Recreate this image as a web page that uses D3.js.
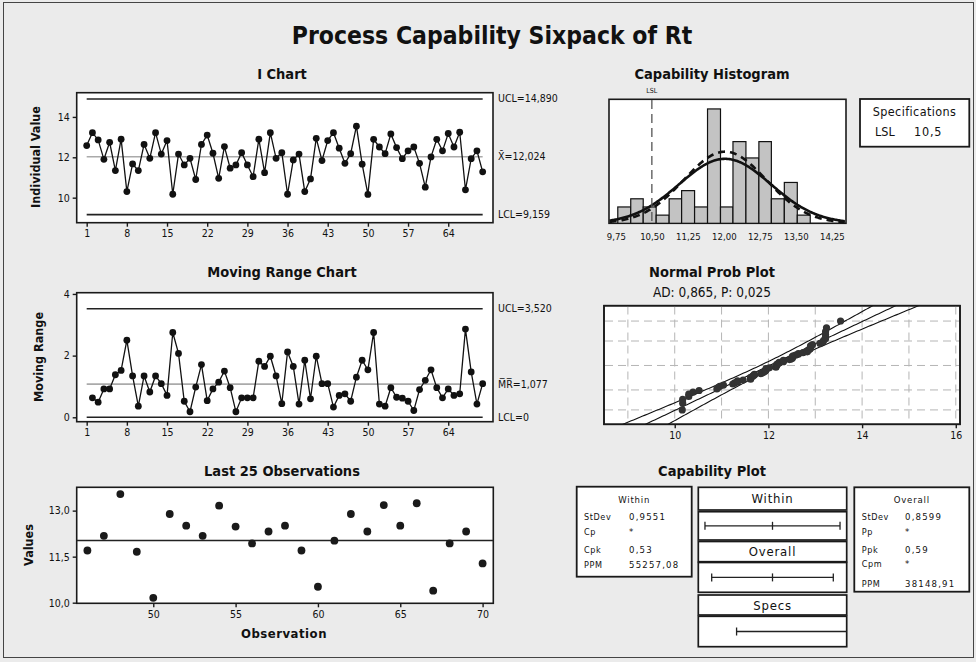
<!DOCTYPE html>
<html><head><meta charset="utf-8">
<script src="https://cdn.jsdelivr.net/npm/d3@7"></script>
<style>
body{margin:0;background:#ebebeb;}
svg{display:block;}
text{font-family:"DejaVu Sans Condensed","DejaVu Sans",sans-serif;fill:#111;}
</style></head>
<body><svg width="976" height="662"></svg>
<script>
// ---------------- data ----------------
const individualValues = [12.58,13.22,12.86,11.90,12.74,11.34,12.90,10.30,11.67,11.34,
  12.64,11.95,13.22,12.16,12.83,10.17,12.16,11.62,11.95,10.90,
  12.64,13.10,12.20,10.96,12.53,11.46,11.62,12.23,11.62,11.04,
  12.90,11.24,13.22,11.95,12.23,10.17,11.87,12.16,10.30,10.93,
  12.94,11.84,12.83,13.22,12.45,11.70,12.18,13.54,11.66,10.16,
  12.89,12.51,12.18,13.16,12.48,11.93,12.32,12.51,11.70,10.52,
  12.02,12.89,12.32,13.18,12.51,13.24,10.39,11.93,12.32,11.28];
// moving ranges for observations 2..70
const movingRanges = [0.63,0.49,0.92,0.92,1.38,1.52,2.50,1.34,0.36,
  1.34,0.82,1.34,1.09,0.71,2.75,2.07,0.52,0.18,0.98,
  1.71,0.54,0.92,1.14,1.50,0.96,0.18,0.63,0.63,0.63,
  1.82,1.65,1.98,1.34,0.44,2.12,1.65,0.43,1.85,0.60,
  1.98,1.09,1.09,0.33,0.71,0.76,0.52,1.30,1.85,1.54,
  2.75,0.43,0.36,0.96,0.65,0.62,0.52,0.22,0.90,1.20,
  1.54,0.96,0.63,0.92,0.71,0.76,2.86,1.47,0.43,1.09];
const iChartXTicks = [1,8,15,22,29,36,43,50,57,64];
const iChartYTicks = [10,12,14];
const mrYTicks = [0,2,4];
const last25XTicks = [50,55,60,65,70];
const last25YTicks = [10.0,11.5,13.0];
const iUCL = 14.890, iCenter = 12.024, iLCL = 9.159;
const mrUCL = 3.520, mrCenter = 1.077, mrLCL = 0;
const histEdges = [9.79,10.06,10.32,10.59,10.86,11.12,11.39,11.66,11.93,12.19,12.46,12.73,12.99,13.26,13.53,13.80];
const histCounts = [2,3,2,1,3,4,2,14,2,10,8,10,3,5,1];
const histTicks = [9.75,10.50,11.25,12.00,12.75,13.50,14.25];
const probXTicks = [10,12,14,16];
const probGridX = [9,10,11,12,13,14,15,16];
const probGridPct = [1,10,50,90,99];
const LSL = 10.5;
const processMean = 12.024;
const stdevWithin = 0.9551;
const stdevOverall = 0.8599;
const withinStats = [["StDev","0,9551"],["Cp","*"],["Cpk","0,53"],["PPM","55257,08"]];
const overallStats = [["StDev","0,8599"],["Pp","*"],["Ppk","0,59"],["Cpm","*"],["PPM","38148,91"]];
const adText = "AD: 0,865, P: 0,025";

// ---------------- helpers ----------------
const svg = d3.select("svg");
const loc = d3.formatLocale({decimal:",",thousands:".",grouping:[3],currency:["",""]});
const fmt1 = loc.format(".1f"), fmt2 = loc.format(".2f"), fmt3 = loc.format(".3f"), fmtInt = loc.format("d");
const N = individualValues.length;

function invNorm(p){
  const a=[-3.969683028665376e+01,2.209460984245205e+02,-2.759285104469687e+02,1.383577518672690e+02,-3.066479806614716e+01,2.506628277459239e+00];
  const b=[-5.447609879822406e+01,1.615858368580409e+02,-1.556989798598866e+02,6.680131188771972e+01,-1.328068155288572e+01];
  const c=[-7.784894002430293e-03,-3.223964580411365e-01,-2.400758277161838e+00,-2.549732539343734e+00,4.374664141464968e+00,2.938163982698783e+00];
  const d=[7.784695709041462e-03,3.224671290700398e-01,2.445134137142996e+00,3.754408661907416e+00];
  const pl=0.02425; let q,r;
  if(p<pl){q=Math.sqrt(-2*Math.log(p));return (((((c[0]*q+c[1])*q+c[2])*q+c[3])*q+c[4])*q+c[5])/((((d[0]*q+d[1])*q+d[2])*q+d[3])*q+1);}
  if(p<=1-pl){q=p-0.5;r=q*q;return (((((a[0]*r+a[1])*r+a[2])*r+a[3])*r+a[4])*r+a[5])*q/(((((b[0]*r+b[1])*r+b[2])*r+b[3])*r+b[4])*r+1);}
  q=Math.sqrt(-2*Math.log(1-p));return -(((((c[0]*q+c[1])*q+c[2])*q+c[3])*q+c[4])*q+c[5])/((((d[0]*q+d[1])*q+d[2])*q+d[3])*q+1);
}
function normPdf(x,m,s){return Math.exp(-0.5*((x-m)/s)**2)/(s*Math.sqrt(2*Math.PI));}

function frame(x0,y0,x1,y1,sw){
  return svg.append("rect").attr("x",x0).attr("y",y0).attr("width",x1-x0).attr("height",y1-y0)
    .attr("fill","#fff").attr("stroke","#1a1a1a").attr("stroke-width",sw||1.6);
}
function styleAxis(g,fs){
  g.select(".domain").remove();
  g.selectAll(".tick line").attr("stroke","#1a1a1a").attr("stroke-width",1.4);
  g.selectAll(".tick text").attr("font-size",fs||10.5).attr("fill","#222")
    .attr("font-family","'DejaVu Sans Condensed','DejaVu Sans',sans-serif");
}
function title(x,y,t,fs,w){
  return svg.append("text").attr("x",x).attr("y",y).attr("text-anchor","middle")
    .attr("font-size",fs).attr("font-weight",w||"bold").text(t);
}

// outer border
svg.append("rect").attr("x",3.5).attr("y",2.5).attr("width",970).attr("height",655)
  .attr("fill","#ebebeb").attr("stroke","#444").attr("stroke-width",1);

title(492,44,"Process Capability Sixpack of Rt",24.5);
title(282,79,"I Chart",14.5);
title(712,79,"Capability Histogram",14.5);
title(282,277,"Moving Range Chart",14.5);
title(712,277,"Normal Prob Plot",14.5);
title(712,297,adText,13.5,"normal").attr("fill","#333");
title(282,476,"Last 25 Observations",14.5);
title(712,476,"Capability Plot",14.5);

// ---------------- I chart ----------------
const xI = d3.scaleLinear().domain([-0.74,71.8]).range([76.7,493]);
const yI = d3.scaleLinear().domain([8.76,15.2]).range([222.7,92.7]);
frame(76.7,92.7,493,222.7);
[[iUCL,"#222"],[iCenter,"#aaa"],[iLCL,"#222"]].forEach(([v,c])=>{
  svg.append("line").attr("x1",xI(1)).attr("x2",xI(N)).attr("y1",yI(v)).attr("y2",yI(v))
    .attr("stroke",c).attr("stroke-width",1.6);
});
svg.append("path").datum(individualValues)
  .attr("d",d3.line().x((d,i)=>xI(i+1)).y(d=>yI(d)))
  .attr("fill","none").attr("stroke","#111").attr("stroke-width",1.3);
svg.append("g").selectAll("circle").data(individualValues).join("circle")
  .attr("cx",(d,i)=>xI(i+1)).attr("cy",d=>yI(d)).attr("r",3.4).attr("fill","#111");
styleAxis(svg.append("g").attr("transform","translate(0,222.7)")
  .call(d3.axisBottom(xI).tickValues(iChartXTicks).tickFormat(fmtInt).tickSize(4).tickPadding(3)));
styleAxis(svg.append("g").attr("transform","translate(76.7,0)")
  .call(d3.axisLeft(yI).tickValues(iChartYTicks).tickFormat(fmtInt).tickSize(4).tickPadding(3)));
svg.append("text").attr("transform","translate(40,157) rotate(-90)").attr("text-anchor","middle")
  .attr("font-size",12.5).attr("font-weight","bold").text("Individual Value");
const limLab = (y,t)=>svg.append("text").attr("x",498).attr("y",y+3.5).attr("font-size",10.5).attr("fill","#222").text(t);
limLab(yI(iUCL),"UCL="+fmt3(iUCL));
limLab(yI(iCenter),"X\u0304="+fmt3(iCenter));
limLab(yI(iLCL),"LCL="+fmt3(iLCL));

// ---------------- Moving range chart ----------------
const yM = d3.scaleLinear().domain([-0.143,4.04]).range([421.7,292.7]);
frame(76.7,292.7,493,421.7);
[[mrUCL,"#222"],[mrCenter,"#aaa"],[mrLCL,"#222"]].forEach(([v,c])=>{
  svg.append("line").attr("x1",xI(1)).attr("x2",xI(N)).attr("y1",yM(v)).attr("y2",yM(v))
    .attr("stroke",c).attr("stroke-width",1.6);
});
svg.append("path").datum(movingRanges)
  .attr("d",d3.line().x((d,i)=>xI(i+2)).y(d=>yM(d)))
  .attr("fill","none").attr("stroke","#111").attr("stroke-width",1.3);
svg.append("g").selectAll("circle").data(movingRanges).join("circle")
  .attr("cx",(d,i)=>xI(i+2)).attr("cy",d=>yM(d)).attr("r",3.4).attr("fill","#111");
styleAxis(svg.append("g").attr("transform","translate(0,421.7)")
  .call(d3.axisBottom(xI).tickValues(iChartXTicks).tickFormat(fmtInt).tickSize(4).tickPadding(3)));
styleAxis(svg.append("g").attr("transform","translate(76.7,0)")
  .call(d3.axisLeft(yM).tickValues(mrYTicks).tickFormat(fmtInt).tickSize(4).tickPadding(3)));
svg.append("text").attr("transform","translate(43,357) rotate(-90)").attr("text-anchor","middle")
  .attr("font-size",12.5).attr("font-weight","bold").text("Moving Range");
const mLab = (y,t)=>svg.append("text").attr("x",498).attr("y",y+3.5).attr("font-size",10.5).attr("fill","#222").text(t);
mLab(yM(mrUCL),"UCL="+fmt3(mrUCL));
mLab(yM(mrCenter),"M\u0305R\u0305="+fmt3(mrCenter));
mLab(yM(mrLCL),"LCL="+mrLCL);

// ---------------- Last 25 observations ----------------
const last25 = individualValues.slice(N-25).map((v,i)=>({obs:N-25+i+1,v}));
const xL = d3.scaleLinear().domain([45.35,70.65]).range([76.7,493.3]);
const yL = d3.scaleLinear().domain([9.98,13.76]).range([603.3,487.3]);
frame(76.7,487.3,493.3,603.3);
svg.append("line").attr("x1",76.7).attr("x2",493.3).attr("y1",yL(iCenter)).attr("y2",yL(iCenter))
  .attr("stroke","#222").attr("stroke-width",1.4);
svg.append("g").selectAll("circle").data(last25).join("circle")
  .attr("cx",d=>xL(d.obs)).attr("cy",d=>yL(d.v)).attr("r",3.9).attr("fill","#1a1a1a");
styleAxis(svg.append("g").attr("transform","translate(0,603.3)")
  .call(d3.axisBottom(xL).tickValues(last25XTicks).tickFormat(fmtInt).tickSize(4).tickPadding(3)));
styleAxis(svg.append("g").attr("transform","translate(76.7,0)")
  .call(d3.axisLeft(yL).tickValues(last25YTicks).tickFormat(fmt1).tickSize(4).tickPadding(3)));
svg.append("text").attr("x",284).attr("y",638).attr("text-anchor","middle").attr("font-size",13)
  .attr("font-weight","bold").attr("letter-spacing",0.5).text("Observation");
svg.append("text").attr("transform","translate(33,545) rotate(-90)").attr("text-anchor","middle")
  .attr("font-size",12.5).attr("font-weight","bold").text("Values");

// ---------------- Capability histogram ----------------
const xH = d3.scaleLinear().domain([9.607,14.545]).range([609,846]);
const yH = d3.scaleLinear().domain([0,15.18]).range([223.3,99.3]);
frame(609,99.3,846,223.3);
const bins = histCounts.map((c,i)=>({x0:histEdges[i],x1:histEdges[i+1],c}));
svg.append("g").selectAll("rect").data(bins).join("rect")
  .attr("x",d=>xH(d.x0)).attr("width",d=>xH(d.x1)-xH(d.x0))
  .attr("y",d=>yH(d.c)).attr("height",d=>yH(0)-yH(d.c))
  .attr("fill","#c3c3c3").attr("stroke","#111").attr("stroke-width",1.2);
const binW = histEdges[1]-histEdges[0];
const xsH = d3.range(9.62,14.54,0.02);
const curve = sd => d3.line().x(x=>xH(x)).y(x=>yH(N*binW*normPdf(x,processMean,sd)));
svg.append("path").datum(xsH).attr("d",curve(stdevWithin)).attr("fill","none")
  .attr("stroke","#111").attr("stroke-width",2.6);
svg.append("path").datum(xsH).attr("d",curve(stdevOverall)).attr("fill","none")
  .attr("stroke","#111").attr("stroke-width",2.6).attr("stroke-dasharray","7,5");
svg.append("line").attr("x1",xH(LSL)).attr("x2",xH(LSL)).attr("y1",100).attr("y2",222.5)
  .attr("stroke","#555").attr("stroke-width",1.3).attr("stroke-dasharray","9,5");
svg.append("text").attr("x",xH(LSL)).attr("y",93).attr("text-anchor","middle").attr("font-size",7).attr("fill","#333").text("LSL");
const gHx = svg.append("g").attr("transform","translate(0,223.3)")
  .call(d3.axisBottom(xH).tickValues(histTicks).tickFormat(fmt2).tickSize(0).tickPadding(10));
styleAxis(gHx,9.5);

// specifications box
frame(860,99,969.3,146.7,1.8);
svg.append("text").attr("x",914.5).attr("y",116).attr("text-anchor","middle").attr("font-size",12.5).attr("letter-spacing",0.4).text("Specifications");
svg.append("text").attr("x",875).attr("y",136).attr("font-size",12.5).text("LSL");
svg.append("text").attr("x",914).attr("y",136).attr("font-size",12.5).attr("letter-spacing",0.8).text(fmt1(LSL));

// ---------------- Normal probability plot ----------------
const xP = d3.scaleLinear().domain([8.49,16.09]).range([604,960]);
const yP = d3.scaleLinear().domain([-3.08,3.13]).range([424.3,305.7]);
frame(604,305.7,960,424.3,1.6);
const gridG = svg.append("g").attr("stroke","#b5b5b5").attr("stroke-width",1).attr("stroke-dasharray","8,5");
probGridX.forEach(v=>gridG.append("line").attr("x1",xP(v)).attr("x2",xP(v)).attr("y1",306.5).attr("y2",423.5));
probGridPct.forEach(p=>gridG.append("line").attr("x1",605).attr("x2",959).attr("y1",yP(invNorm(p/100))).attr("y2",yP(invNorm(p/100))));
svg.append("clipPath").attr("id","pclip").append("rect").attr("x",604).attr("y",305.7).attr("width",356).attr("height",118.6);
const zs = d3.range(-3.4,3.41,0.05);
const band = k => d3.line()
  .x(z=>xP(processMean+z*stdevOverall+k*1.96*stdevOverall*Math.sqrt(1/N+z*z/(2*N))))
  .y(z=>yP(z));
[-1,0,1].forEach(k=>svg.append("path").datum(zs).attr("d",band(k)).attr("clip-path","url(#pclip)")
  .attr("fill","none").attr("stroke","#111").attr("stroke-width",1.1));
const sorted = individualValues.slice().sort(d3.ascending);
svg.append("g").attr("clip-path","url(#pclip)").selectAll("circle").data(sorted).join("circle")
  .attr("cx",d=>xP(d)).attr("cy",(d,i)=>yP(invNorm((i+1-0.3)/(N+0.4)))).attr("r",3.6).attr("fill","#333");
styleAxis(svg.append("g").attr("transform","translate(0,424.3)")
  .call(d3.axisBottom(xP).tickValues(probXTicks).tickFormat(fmtInt).tickSize(4).tickPadding(3)));
frame(604,305.7,960,424.3,1.6).attr("fill","none");

// ---------------- Capability plot ----------------
const xC = d3.scaleLinear().domain([8.876,15.172]).range([698.3,846.7]);
const rows = [[487.3,510,"Within"],[511.7,540,null],[541.5,561.7,"Overall"],[562.5,592.3,null],[595,615,"Specs"],[616.3,646.7,null]];
rows.forEach(([y0,y1,t])=>{
  frame(698.3,y0,846.7,y1,1.7);
  if(t) svg.append("text").attr("x",772.5).attr("y",(y0+y1)/2+4.8).attr("text-anchor","middle")
    .attr("font-size",13).attr("letter-spacing",0.8).attr("fill","#444").text(t);
});
function intervalRow(lo,hi,mid,yc){
  svg.append("line").attr("x1",xC(lo)).attr("x2",xC(hi)).attr("y1",yc).attr("y2",yc).attr("stroke","#222").attr("stroke-width",1.3);
  [lo,mid,hi].filter(v=>v!=null).forEach(v=>svg.append("line").attr("x1",xC(v)).attr("x2",xC(v)).attr("y1",yc-4).attr("y2",yc+4).attr("stroke","#222").attr("stroke-width",1.3));
}
intervalRow(processMean-3*stdevWithin,processMean+3*stdevWithin,processMean,525.8);
intervalRow(processMean-3*stdevOverall,processMean+3*stdevOverall,processMean,577.4);
svg.append("line").attr("x1",xC(LSL)).attr("x2",846.7).attr("y1",631.5).attr("y2",631.5).attr("stroke","#222").attr("stroke-width",1.3);
svg.append("line").attr("x1",xC(LSL)).attr("x2",xC(LSL)).attr("y1",627.5).attr("y2",635.5).attr("stroke","#222").attr("stroke-width",1.3);

function statBox(x0,y0,x1,y1,head,stats,ys,lx,vx){
  frame(x0,y0,x1,y1,1.8);
  svg.append("text").attr("x",(x0+x1)/2).attr("y",y0+16).attr("text-anchor","middle").attr("font-size",9.5)
    .attr("letter-spacing",0.8).attr("fill","#333").text(head);
  stats.forEach(([l,v],i)=>{
    svg.append("text").attr("x",lx).attr("y",ys[i]).attr("font-size",9).attr("letter-spacing",0.6).attr("fill","#333").text(l);
    svg.append("text").attr("x",vx).attr("y",ys[i]).attr("font-size",9.5).attr("letter-spacing",1.2).attr("fill","#333").text(v);
  });
}
statBox(576.7,486.7,691.7,576.7,"Within",withinStats,[519.5,534.5,552.5,568],584,629);
statBox(854.3,487.3,969.3,591.7,"Overall",overallStats,[519.5,534.5,552.5,566.5,586.5],861.7,905);
</script></body></html>
